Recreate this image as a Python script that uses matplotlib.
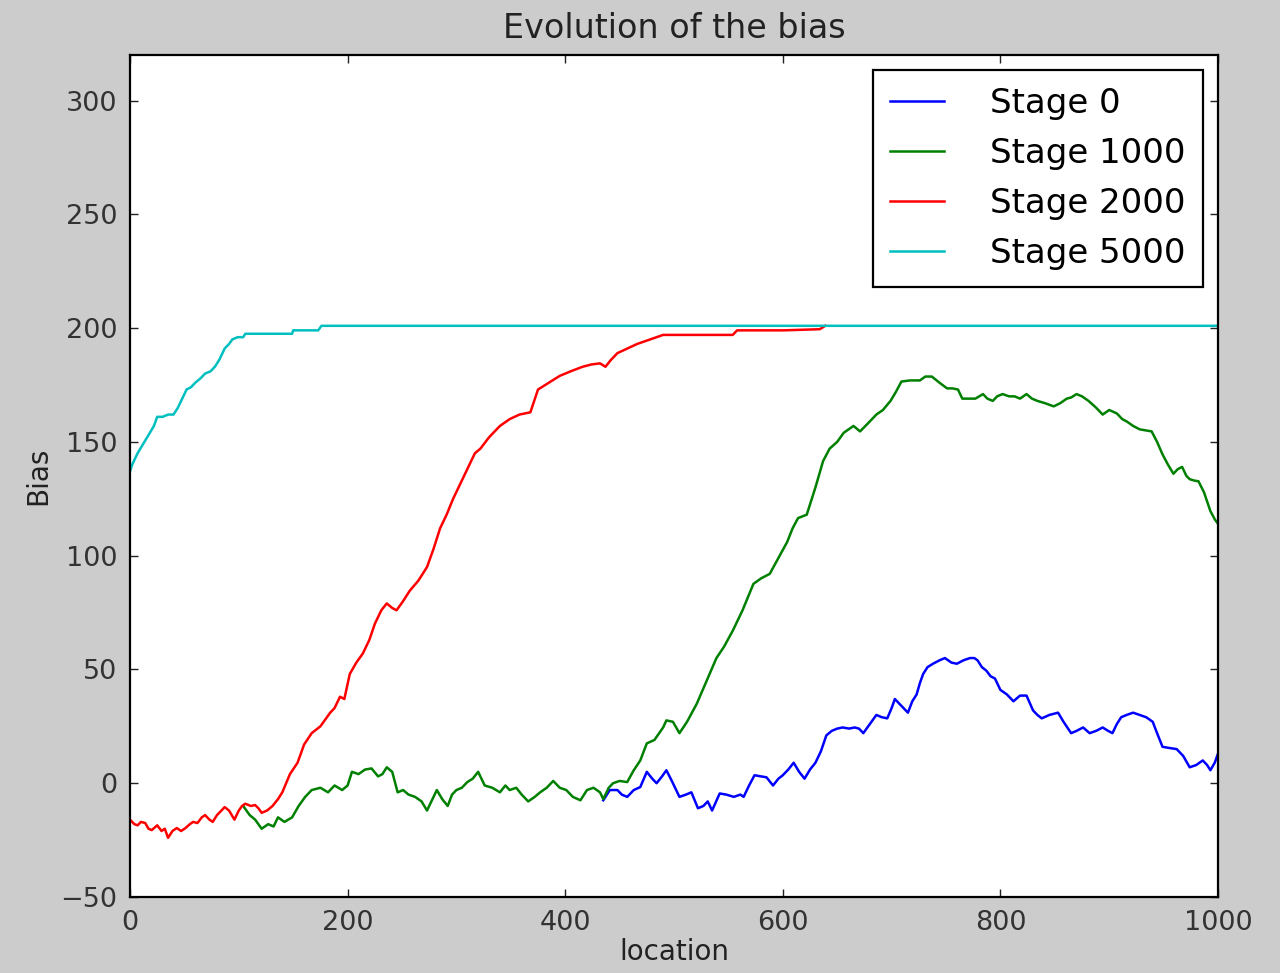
import matplotlib
matplotlib.use("Agg")
import matplotlib.pyplot as plt

# bias per location, one walk per training stage
stage0_x = [435, 441, 448, 452, 457, 463, 469, 475, 480, 484, 489, 493, 498, 505, 511, 516,
            522, 527, 531, 535, 542, 548, 555, 561, 564, 569, 574, 580, 585, 591, 596, 600,
            605, 610, 615, 620, 625, 630, 635, 640, 645, 650, 655, 661, 666, 670, 674, 680,
            686, 691, 696, 700, 703, 709, 715, 719, 723, 726, 729, 733, 738, 744, 749, 755,
            760, 766, 772, 776, 779, 783, 787, 791, 795, 800, 806, 812, 818, 824, 830, 834,
            838, 845, 853, 858, 865, 870, 876, 882, 888, 894, 899, 903, 907, 911, 916, 922,
            928, 934, 940, 944, 949, 955, 962, 968, 974, 980, 986, 990, 993, 997, 1000]
stage0_y = [-7.5, -3, -3, -5, -6, -3, -1.7, 5, 2, 0, 3, 5.7, 1, -6, -5, -4,
            -11, -10, -8, -12, -4.5, -5, -6, -5, -6, -1, 3.5, 3, 2.6, -1, 2, 3.5,
            6, 9, 5, 2, 6, 9, 14, 21, 23, 24, 24.5, 24, 24.5, 24, 22, 26,
            30, 29, 28.5, 33, 37, 34, 31, 36, 39, 44, 48, 51, 52.5, 54, 55, 53,
            52.5, 54, 55, 55, 54, 51, 49.5, 47, 46, 41, 39, 36, 38.5, 38.5, 32, 30,
            28.5, 30, 31, 27, 22, 23, 24.5, 22, 23, 24.5, 23, 22, 26, 29, 30, 31,
            30, 29, 27, 22, 16, 15.5, 15, 12, 7, 8, 10, 8, 5.7, 9, 13]

stage1000_x = [104, 110, 115, 121, 127, 132, 136, 142, 149, 155, 161, 167, 175, 182, 188, 195,
               200, 204, 210, 216, 222, 228, 232, 236, 241, 246, 251, 256, 262, 268, 273, 278,
               282, 287, 292, 296, 300, 305, 310, 315, 320, 326, 333, 340, 345, 349, 355, 360,
               366, 372, 377, 383, 389, 395, 401, 407, 414, 420, 426, 432, 435, 440, 444, 450,
               457, 463, 469, 475, 482, 490, 493, 499, 505, 512, 521, 530, 539, 546, 554, 563,
               573, 580, 588, 596, 604, 609, 614, 622, 630, 637, 643, 650, 656, 662, 665, 671,
               678, 686, 692, 699, 704, 709, 717, 726, 731, 737, 744, 751, 756, 761, 765, 770,
               777, 784, 788, 793, 797, 802, 808, 813, 818, 824, 829, 834, 841, 849, 855, 861,
               865, 870, 875, 881, 888, 894, 900, 907, 912, 916, 922, 928, 934, 939, 944, 949,
               954, 959, 963, 967, 971, 974, 978, 982, 987, 993, 997, 1000]
stage1000_y = [-10, -14, -16, -20, -18, -19, -15, -17, -15, -10, -6, -3, -2, -4, -1, -3,
               -1, 5, 4, 6, 6.5, 3, 4, 7, 5, -4, -3, -5, -6, -8, -12, -7,
               -3, -7, -10, -5, -3, -2, 0.5, 2, 5, -1, -2, -4, -1, -3, -2, -5,
               -8, -6, -4, -2, 1, -2, -3, -6, -7.5, -3, -2, -4, -7, -2, 0, 1,
               0.5, 5.7, 10, 17.5, 19, 24.5, 27.6, 27, 22, 27, 35, 45, 55, 60, 67, 76,
               87.6, 90, 92, 99, 106, 112, 116.5, 118, 130, 141.5, 147, 150, 154, 156, 157, 154.6,
               158, 162, 164, 168, 172, 176.5, 177, 177, 178.7, 178.7, 176, 173.5, 173.5, 173, 169, 169,
               169, 171, 169, 168, 170, 171, 170, 170, 169, 171, 169, 168, 167, 165.6, 167, 169,
               169.5, 171, 170, 168, 165, 162, 164, 162.5, 160, 159, 157, 155.5, 155, 154.6, 150, 144.5,
               140, 136, 138, 139, 135, 133.6, 133, 132.7, 128, 119.6, 116, 114]

stage2000_x = [0, 4, 7, 10, 14, 17, 20, 25, 29, 32, 35, 39, 43, 47, 51, 55,
               58, 62, 66, 69, 73, 76, 80, 84, 87, 91, 96, 100, 103, 106, 111, 115,
               118, 121, 126, 131, 136, 140, 147, 154, 160, 167, 175, 184, 188, 193,
               197, 202, 208, 214, 220, 225, 231, 236, 241, 245, 251, 257, 265, 273, 279, 285,
               291, 297, 304, 312, 317, 322, 330, 340, 349, 358, 368, 375, 385, 395, 405, 416,
               424, 432, 437, 442, 448, 457, 466, 472, 478, 484, 490, 520, 554, 558, 600, 634, 639]
stage2000_y = [-16, -18, -18.5, -17, -17.5, -20, -20.6, -18.5, -21, -20, -24, -21, -19.7, -21, -19.7, -18,
               -17, -17.5, -15, -14, -16, -17, -14, -12, -10.5, -12, -16, -12, -10, -9, -10, -9.6,
               -11, -13, -12, -10, -7, -4, 4, 9, 17, 22, 25, 31, 33, 38,
               37, 48, 53, 57, 63, 70, 76, 79, 77, 76, 80, 84.5, 89, 95, 103, 112,
               118, 125, 132, 140, 145, 147, 152, 157, 160, 162, 163, 173, 176, 179, 181, 183,
               184, 184.5, 183, 186, 189, 191, 193, 194, 195, 196, 197, 197, 197, 199, 199, 199.5, 201]

stage5000_x = [0, 2, 7, 12, 17, 22, 25, 30, 35, 40, 44, 48, 52, 56, 60, 65,
               69, 74, 78, 82, 87, 91, 94, 99, 104, 106, 120, 149, 150, 173, 176, 1000]
stage5000_y = [137, 140, 145, 149, 153, 157, 161, 161, 162, 162, 165, 169, 173, 174, 176, 178,
               180, 181, 183, 186, 191, 193, 195, 196, 196, 197.5, 197.5, 197.5, 199, 199, 201, 201]

labels = ["Stage 0", "Stage 1000", "Stage 2000", "Stage 5000"]
colors = ["b", "g", "r", "c"]

fig = plt.figure(figsize=(12.8, 9.73), dpi=100, facecolor="#cccccc")
ax = fig.add_axes([130 / 1280, 1 - 897 / 973, 1088 / 1280, 842 / 973])

series = [(stage0_x, stage0_y), (stage1000_x, stage1000_y),
          (stage2000_x, stage2000_y), (stage5000_x, stage5000_y)]
for (xs, ys), lab, col in zip(series, labels, colors):
    ax.plot(xs, ys, color=col, lw=1.8, label=lab)

ax.set_xlim(0, 1000)
ax.set_ylim(-50, 320)
ax.set_xticks(range(0, 1001, 200))
ax.set_yticks(range(-50, 301, 50))
ax.tick_params(direction="in", length=6, width=1, top=True, right=True,
               labelsize=19.5, pad=9, colors="#222222", labelcolor="#333333")
for sp in ax.spines.values():
    sp.set_linewidth(1.6)

ax.set_title("Evolution of the bias", fontsize=24, pad=12, color="#222222")
ax.set_xlabel("location", fontsize=20, labelpad=2, color="#222222")
ax.set_ylabel("Bias", fontsize=20, labelpad=6, color="#222222")

leg = ax.legend(loc="upper right", fontsize=24.5, fancybox=False, framealpha=1,
                edgecolor="black", handlelength=1.6, handletextpad=1.35,
                labelspacing=0.5, borderpad=0.5, borderaxespad=0.45)
leg.get_frame().set_linewidth(1.6)

fig.savefig("out.png", dpi=100, facecolor=fig.get_facecolor())
